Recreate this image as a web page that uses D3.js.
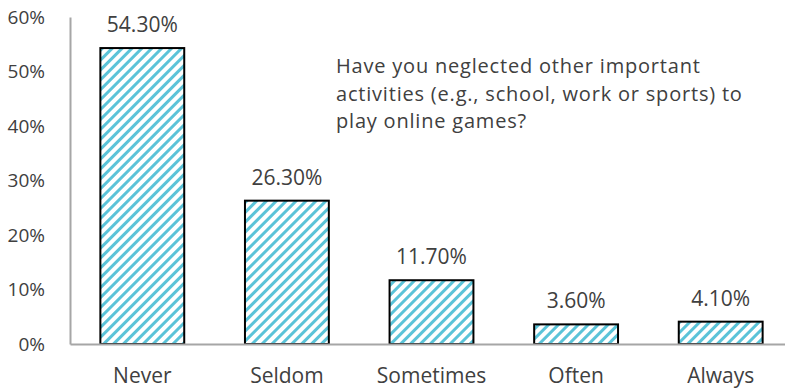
<!DOCTYPE html>
<html>
<head>
<meta charset="utf-8">
<script src="https://cdn.jsdelivr.net/npm/d3@7"></script>
<style>
  html, body { margin: 0; padding: 0; background: #fff; }
  svg { display: block; }
  text { font-family: "Open Sans", Lato, sans-serif; fill: #404040; }
</style>
</head>
<body>
<svg id="chart" width="785" height="390"></svg>
<script>
// Survey answers and their shares (%)
const categories = ["Never", "Seldom", "Sometimes", "Often", "Always"];
const values = [54.3, 26.3, 11.7, 3.6, 4.1];
const yTicks = [0, 10, 20, 30, 40, 50, 60];
const questionLines = [
  "Have you neglected other important",
  "activities (e.g., school, work or sports) to",
  "play online games?"
];

const svg = d3.select("#chart");
const width = 785, height = 390;
const margin = { left: 70, right: -8, top: 17, bottom: 46 };

const x = d3.scaleBand()
  .domain(categories)
  .range([margin.left, width - margin.right])
  .paddingInner(0.42)
  .paddingOuter(0.21);

const y = d3.scaleLinear()
  .domain([0, 60])
  .range([height - margin.bottom, margin.top]);

// Diagonal hatch fill
const defs = svg.append("defs");
const pat = defs.append("pattern")
  .attr("id", "hatch")
  .attr("patternUnits", "userSpaceOnUse")
  .attr("width", 7)
  .attr("height", 7)
  .attr("patternTransform", "rotate(45)");
pat.append("rect").attr("width", 7).attr("height", 7).attr("fill", "#fff");
pat.append("rect").attr("x", 0).attr("width", 3).attr("height", 7).attr("fill", "#5bc3d8");

// Y axis
const yAxis = d3.axisLeft(y)
  .tickValues(yTicks)
  .tickSize(0)
  .tickPadding(25)
  .tickFormat(d => d + "%");
const gy = svg.append("g")
  .attr("transform", `translate(${margin.left},0)`)
  .call(yAxis);
gy.select(".domain").attr("stroke", "#a6a6a6").attr("stroke-width", 2);
gy.selectAll("text")
  .style("font-size", "19px")
  .attr("fill", "#404040");

// Bars
svg.append("g").selectAll("rect")
  .data(values)
  .join("rect")
  .attr("x", (d, i) => x(categories[i]))
  .attr("y", d => y(d))
  .attr("width", x.bandwidth())
  .attr("height", d => y(0) - y(d))
  .attr("fill", "url(#hatch)")
  .attr("stroke", "#000")
  .attr("stroke-width", 2);

// X axis baseline and category labels
const xAxis = d3.axisBottom(x).tickSize(0);
const gx = svg.append("g")
  .attr("transform", `translate(0,${y(0)})`)
  .call(xAxis);
gx.select(".domain").attr("stroke", "#a6a6a6").attr("stroke-width", 2);
gx.selectAll("text")
  .attr("y", 39)
  .attr("dy", 0)
  .style("font-size", "21px")
  .attr("fill", "#404040");

// Value labels
svg.append("g").selectAll("text")
  .data(values)
  .join("text")
  .attr("x", (d, i) => x(categories[i]) + x.bandwidth() / 2)
  .attr("y", d => y(d) - 16)
  .attr("text-anchor", "middle")
  .style("font-size", "21px")
  .text(d => d.toFixed(2) + "%");

// Question text: one block, one tspan per line
svg.append("text")
  .attr("x", 336)
  .attr("y", 73)
  .style("font-size", "20px")
  .style("letter-spacing", "0.8px")
  .attr("fill", "#000")
  .selectAll("tspan")
  .data(questionLines)
  .join("tspan")
  .attr("x", 336)
  .attr("dy", (d, i) => i === 0 ? 0 : 27.5)
  .text(d => d);
</script>
</body>
</html>
